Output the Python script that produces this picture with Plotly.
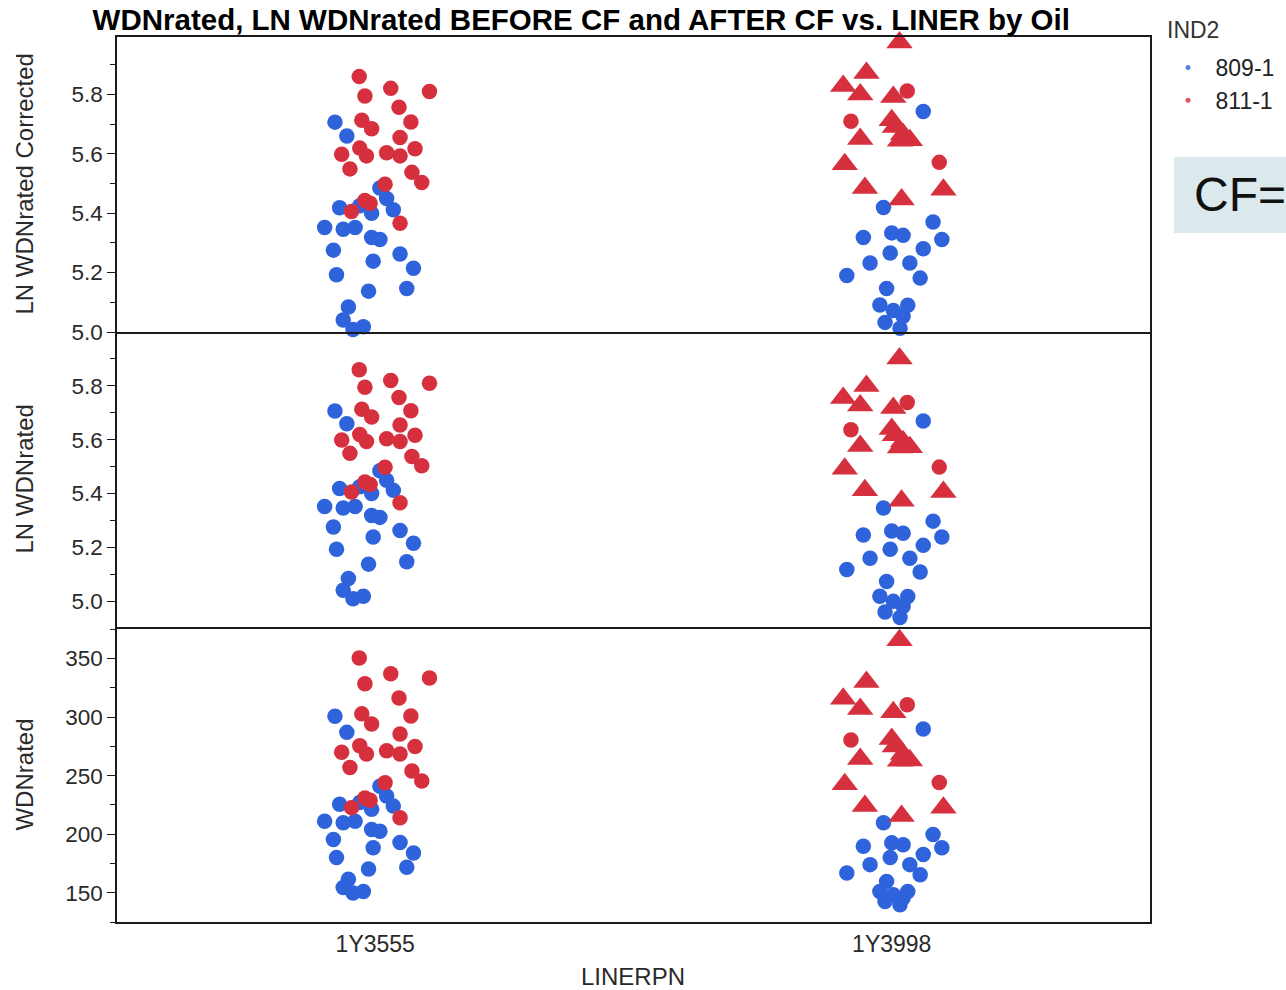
import numpy as np
import plotly.graph_objects as go
from plotly.subplots import make_subplots

# ---------------- data ----------------
liners = ["1Y3555", "1Y3998"]
ind2_levels = ["809-1", "811-1"]
cf_by_liner = [0.0, 0.073]          # correction factor (added on log scale)

# 1Y3555 / 809-1 (blue)
a_b_jit = [-0.078, -0.055, 0.009, 0.022, -0.069, -0.030, -0.007, 0.035, -0.098, -0.062,
           -0.039, -0.007, 0.009, -0.081, -0.004, 0.048, 0.074, -0.075, 0.061, -0.013,
           -0.052, -0.062, -0.023, -0.043]
a_b_wdn = [300.8, 287, 241, 232.6, 225.5, 227, 221.4, 224, 211, 209.8,
           211, 204, 202.6, 195.5, 188.4, 193, 184, 180, 171.8, 170.3,
           161.5, 154.5, 151.1, 149.7]
a_b_sym = ["circle"] * len(a_b_wdn)

# 1Y3555 / 811-1 (red)
a_r_jit = [-0.031, 0.030, 0.105, -0.020, 0.046, 0.069, -0.026, -0.007, 0.048, 0.022,
           0.048, 0.077, -0.065, -0.017, -0.030, -0.049, 0.071, 0.090, 0.019, -0.020,
           -0.046, 0.048, -0.010]
a_r_wdn = [350.6, 337, 333.4, 328.5, 316.3, 301, 302.8, 294.2, 285.6, 271.3,
           268.5, 275, 270, 268.5, 275.6, 257, 254, 245.5, 244, 231,
           222.7, 214, 229]
a_r_sym = ["circle"] * len(a_r_wdn)

# 1Y3998 / 809-1 (blue)
b_b_jit = [0.061, -0.016, 0.080, -0.055, 0.000, 0.022, 0.097, 0.061, -0.042, -0.087,
           0.035, 0.055, -0.010, -0.023, 0.003, 0.022, 0.016, -0.013, 0.031, -0.003]
b_b_wdn = [289.9, 209.8, 199.8, 189.7, 192.6, 191, 188.4, 182.6, 174, 166.9,
           174, 165.4, 159.7, 151.1, 148.3, 145.5, 139.7, 142.5, 151, 180]
b_b_sym = ["circle"] * len(b_b_wdn)

# 1Y3998 / 811-1 (red)
b_r_jit = [0.015, -0.049, -0.094, -0.061, 0.003, 0.000, 0.022, 0.016, -0.061, -0.091,
           -0.052, 0.019, 0.100, 0.035, 0.006, 0.030, -0.079, 0.092]
b_r_wdn = [365.7, 330, 315.7, 307, 304.2, 281.3, 268.5, 262.7, 264.2, 242.7,
           224, 215.5, 222.7, 263, 275, 310.5, 280.5, 244.2]
b_r_sym = ["triangle-up"] * 15 + ["circle"] * 3

groups = [
    (0, 0, a_b_jit, a_b_wdn, a_b_sym),
    (0, 1, a_r_jit, a_r_wdn, a_r_sym),
    (1, 0, b_b_jit, b_b_wdn, b_b_sym),
    (1, 1, b_r_jit, b_r_wdn, b_r_sym),
]

panel_titles = ["LN WDNrated Corrected", "LN WDNrated", "WDNrated"]
ln_ticks = [5.0, 5.2, 5.4, 5.6, 5.8]
wdn_ticks = [150, 200, 250, 300, 350]

colors = ["#2f63dc", "#d6303f"]

FONT = "Liberation Sans, Arial, sans-serif"

fig = make_subplots(rows=3, cols=1, shared_xaxes=True, vertical_spacing=0)

for li, gi, jit, wdn, sym in groups:
    x = np.array(li, dtype=float) + np.array(jit)
    w = np.array(wdn, dtype=float)
    ln = np.log(w)
    ys = [ln + cf_by_liner[li], ln, w]
    for row in range(3):
        sizes = [23 if s == "triangle-up" else 15.5 for s in sym]
        fig.add_trace(go.Scatter(
            x=x, y=ys[row], mode="markers", showlegend=False, cliponaxis=False,
            marker=dict(color=colors[gi], size=sizes, symbol=sym, opacity=1,
                        line=dict(width=0)),
        ), row=row + 1, col=1)

# legend entries (small dots)
for gi, lev in enumerate(ind2_levels):
    fig.add_trace(go.Scatter(x=[None], y=[None], mode="markers", name=lev,
                             marker=dict(color=colors[gi], size=5, opacity=0.8)), row=1, col=1)

LC = "#1a1a1a"
for r in range(1, 4):
    fig.update_xaxes(range=[-0.5, 1.5], tickvals=[0, 1], ticktext=liners, ticks="",
                     tickfont=dict(family=FONT, size=23, color="#2a2a2a"),
                     showline=True, linecolor=LC, linewidth=1.8, mirror=(r == 1),
                     showgrid=False, zeroline=False, row=r, col=1)

fig.update_yaxes(range=[5.0, 5.993], tickvals=ln_ticks, tickformat=".1f", row=1, col=1)
fig.update_yaxes(range=[4.904, 6.0], tickvals=ln_ticks, tickformat=".1f", row=2, col=1)
fig.update_yaxes(range=[125, 377], tickvals=wdn_ticks, row=3, col=1)
for r in range(1, 4):
    md = 0.1 if r < 3 else 25
    t0 = 5.0 if r < 3 else 150
    fig.update_yaxes(ticks="outside", ticklen=8, tickwidth=1.4, tickcolor=LC,
                     minor=dict(ticks="outside", ticklen=5, tickwidth=1.2, tickcolor=LC,
                                dtick=md, tick0=t0, showgrid=False),
                     tickfont=dict(family=FONT, size=22.5, color="#2a2a2a"),
                     showline=True, linecolor=LC, linewidth=1.5, mirror=True,
                     showgrid=False, zeroline=False, row=r, col=1)

# y titles as annotations
centers = [5 / 6, 0.5, 1 / 6]
for t, c in zip(panel_titles, centers):
    fig.add_annotation(text=t, xref="paper", yref="paper", x=-0.09, y=c,
                       xanchor="center", yanchor="middle", textangle=-90, showarrow=False,
                       font=dict(family=FONT, size=24, color="#2a2a2a"))

fig.add_annotation(text="LINERPN", xref="paper", yref="paper", x=0.4995, y=-0.062,
                   xanchor="center", yanchor="middle", showarrow=False,
                   font=dict(family=FONT, size=24, color="#2a2a2a"))

# legend title
fig.add_annotation(text="IND2", xref="paper", yref="paper", x=(1165 - 117) / 1033,
                   y=(922 - 30) / 885, xanchor="left", yanchor="middle", showarrow=False,
                   font=dict(family=FONT, size=23, color="#333"))

# CF box
fig.add_shape(type="rect", xref="paper", yref="paper", x0=1.0232, x1=1.2, y0=0.7785, y1=0.8644,
              fillcolor="#dce9ec", line=dict(width=0), layer="below")
fig.add_annotation(text="CF=", xref="paper", yref="paper", x=1.0405, y=0.8215,
                   xanchor="left", yanchor="middle", showarrow=False,
                   font=dict(family=FONT, size=48, color="#111"))

fig.update_layout(
    width=1286, height=990,
    margin=dict(l=117, r=136, t=37, b=68, autoexpand=False),
    paper_bgcolor="white", plot_bgcolor="white",
    title=dict(text="<b>WDNrated, LN WDNrated BEFORE CF and AFTER CF vs. LINER by Oil</b>",
               x=0.452, xanchor="center", xref="container",
               y=0.98, yanchor="middle",
               font=dict(family=FONT, size=29.5, color="#000")),
    legend=dict(x=1.0102, xanchor="left", y=(922 - 46) / 885, yanchor="top",
                font=dict(family=FONT, size=23, color="#222"),
                bgcolor="rgba(0,0,0,0)", itemwidth=45, tracegroupgap=0),
    font=dict(family=FONT),
)

fig.write_html("out.html")
